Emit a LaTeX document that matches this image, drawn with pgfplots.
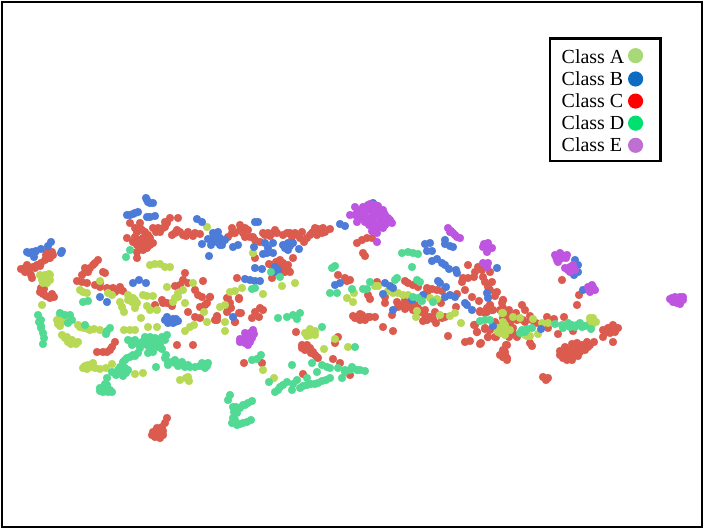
\documentclass[border=0pt]{standalone}
\usepackage{fontspec}
\setmainfont{Liberation Serif}
\usepackage{pgfplots}
\pgfplotsset{compat=1.18}
\definecolor{ptA}{HTML}{B7D956}
\definecolor{ptB}{HTML}{4C7BD8}
\definecolor{ptC}{HTML}{DB5B4E}
\definecolor{ptD}{HTML}{52D993}
\definecolor{ptE}{HTML}{BE55E0}
\definecolor{keyA}{HTML}{A9D878}
\definecolor{keyB}{HTML}{0B6CC2}
\definecolor{keyC}{HTML}{FF0000}
\definecolor{keyD}{HTML}{00E06E}
\definecolor{keyE}{HTML}{BE6FD2}
\pgfplotsset{
  dots/.style={only marks,mark=*,mark size=3.9bp,mark options={draw=#1,fill=#1},forget plot},
  key/.style={only marks,mark=*,mark size=6.3bp,mark options={draw=#1,fill=#1}}}
\begin{document}
\begin{tikzpicture}
\useasboundingbox (-2bp,-2bp) rectangle (702bp,527bp);
\begin{axis}[
  at={(0,0)},anchor=south west,
  scale only axis,
  width=700bp,height=525bp,
  xmin=2,xmax=702,ymin=2,ymax=527,
  y dir=reverse,
  xtick=\empty,ytick=\empty,
  axis line style={line width=2bp,black},
  legend plot pos=right,
  legend cell align=left,
  legend image code/.code={\draw[#1] plot coordinates {(0.3cm,0cm)};\path (0.78cm,0cm);},
  legend style={at={(axis cs:548.5,37.5)},anchor=north west,draw=black,line width=2.5bp,
    font=\fontsize{20}{22}\selectfont,inner xsep=10bp,inner ysep=6bp,row sep=2.8bp,
    /tikz/every odd column/.append style={column sep=3bp}},
]
\addlegendimage{key=keyA}
\addlegendentry{\rule{0pt}{16.3bp}Class A}
\addlegendimage{key=keyB}
\addlegendentry{Class B}
\addlegendimage{key=keyC}
\addlegendentry{Class C}
\addlegendimage{key=keyD}
\addlegendentry{Class D}
\addlegendimage{key=keyE}
\addlegendentry{Class E}
% class C
\addplot[dots=ptC] coordinates {
(21,269)(25,268)(29,269)(31,275)(32,278)(29,271)(33,267)(37,265)(41,263)(45,260)(48,258)(50,254)(46,255)(52,252)(53,255)(47,252)(25,272)(27,265)(35,268)(40,266)(50,258)
(41,288)(40,292)(43,294)(46,296)(50,298)(54,297)(52,294)(44,289)
(97,352)(103,352)(107,352)(112,347)(115,342)(110,350)(177,345)(193,345)
(244,363)(262,363)(350,375)(340,363)(333,359)(303,374)(335,343)(338,337)(296,332)
(302,348)(307,345)(310,348)(313,352)(317,357)(318,358)(302,345)(305,350)(311,353)(315,355)
(155,433)(160,432)(163,435)(158,436)(162,427)(167,418)(165,423)(153,432)(158,430)(155,437)(160,438)(157,428)(152,435)(160,435)(163,431)
(357,317)(362,315)(370,317)(360,318)(375,317)
(130,223)(140,223)(142,230)(137,232)(127,238)(133,242)(145,243)(150,238)(153,243)(142,247)(147,248)(137,258)(137,252)(148,235)(153,228)(160,232)(165,222)(170,218)(178,218)(167,223)(172,235)(177,230)(183,235)(188,232)(193,236)(200,234)(143,238)(163,228)
(135,237)(140,240)(145,238)(150,245)(143,250)(137,245)(145,232)(135,228)(140,228)(156,232)(158,228)(165,227)(175,233)(180,232)(186,236)(195,233)
(98,260)(93,265)(90,268)(85,272)(82,275)(103,272)(105,273)(85,268)(95,263)(88,272)
(77,281)(82,282)(87,283)(95,285)(100,287)(107,288)(113,288)(118,290)(123,291)(115,292)(100,283)(110,291)(120,287)
(155,305)(162,300)(167,303)(172,306)(175,286)(183,280)(185,273)(188,283)(203,281)(195,290)(198,295)(202,297)(210,297)(207,303)(200,307)(188,312)(195,317)(200,318)(217,317)(215,320)(228,298)(230,303)(228,310)(235,322)(237,278)(239,298)(239,313)(180,285)(163,303)
(232,228)(228,237)(235,233)(240,225)(245,228)(248,230)(245,237)(250,237)(255,240)(260,242)(263,233)(268,233)(273,233)(277,233)(287,233)(292,237)(298,235)(302,232)(307,238)(313,232)(318,229)(323,228)(312,233)(322,233)(330,229)(304,242)(317,235)
(232,233)(240,230)(243,233)(253,237)(265,235)(270,236)(275,230)(283,235)(290,233)(295,233)(300,238)(310,235)(315,228)(320,232)(325,232)
(255,258)(269,264)(283,263)(288,265)(290,272)(272,278)(293,258)(282,265)(285,272)(276,262)(280,260)(278,265)(273,267)(285,268)(280,270)(288,270)
(227,298)(229,303)(231,308)(239,299)(227,312)(241,313)(210,297)(205,305)(260,308)(255,312)(252,318)(263,310)(259,317)(217,316)(217,320)(235,322)
(357,243)(362,240)(367,238)(372,238)(363,253)(365,256)
(478,267)(468,265)(482,270)(490,272)(463,278)(468,278)(474,277)(462,282)(483,277)(485,282)(492,282)(488,287)(490,290)(465,290)(497,292)(495,296)(472,297)(479,301)(457,294)(456,307)(503,300)(502,303)(490,305)(487,308)(480,312)(485,313)(493,310)(475,325)(477,332)(485,328)(488,337)(496,337)(465,342)(470,341)(480,344)(448,336)(507,345)(505,352)(503,357)(507,360)(475,272)(505,355)(500,355)
(338,275)(345,278)(350,280)(347,281)(368,295)(370,299)(385,297)(385,303)(377,282)
(405,281)(408,283)(413,285)(418,287)(427,288)(432,289)(437,290)(442,291)(427,292)
(397,302)(398,307)(392,315)(405,305)(410,307)(405,309)(413,310)(418,308)(425,315)(423,321)(427,320)(433,319)(436,323)(442,318)(445,317)(435,312)(441,303)(427,295)(383,327)(393,331)(358,317)(363,317)(368,317)(355,318)(360,314)
(405,300)(410,303)(415,305)(420,312)(400,305)(430,317)(425,310)(360,320)(365,320)(353,316)
(522,305)(525,310)(530,316)(516,313)(509,310)(503,308)(503,300)(490,305)(492,310)(487,312)(480,311)(547,317)(554,319)(564,317)(548,328)(558,334)(573,331)(536,323)(532,320)(523,320)(513,328)(517,337)(509,337)(507,333)(495,337)(488,337)(485,329)(474,325)(477,332)(481,343)(506,345)(503,350)(503,357)(507,358)(530,343)(532,346)(505,320)(512,319)(517,320)(510,323)(503,318)
(500,310)(515,318)(525,322)(510,315)(498,325)(515,335)(490,330)(495,322)
(560,351)(565,347)(572,344)(577,343)(582,345)(587,342)(588,347)(585,350)(580,352)(575,353)(570,352)(567,355)(563,358)(567,360)(573,357)(578,356)(570,357)(594,342)(572,349)(580,348)(564,352)(560,355)(568,350)(575,349)(583,349)(590,345)(572,360)(578,351)(585,346)
(603,330)(608,328)(613,325)(618,328)(610,333)(603,337)(615,332)(613,342)(610,328)(605,333)(612,330)
(543,377)(548,378)(546,380)
(562,280)(579,295)(577,305)
};
% class A
\addplot[dots=ptA] coordinates {
(40,275)(45,275)(50,275)(42,280)(48,280)(50,280)(43,283)(47,283)(49,274)(42,305)(47,278)(45,281)
(60,316)(57,320)(58,324)(62,322)(64,318)(60,326)(63,315)(65,320)(61,320)(63,320)
(62,335)(65,338)(68,342)(71,344)(76,344)(78,342)(72,340)(67,337)
(78,325)(84,328)(88,329)(94,329)(100,330)(80,327)(90,330)
(124,330)(130,330)(135,330)(148,327)(157,327)(185,331)(190,327)(194,325)(207,322)(225,322)(225,331)
(83,368)(88,365)(93,363)(87,369)(95,368)(100,369)(106,368)(112,364)(85,366)(90,367)
(135,374)(143,373)(180,380)(186,378)(189,381)(188,377)
(263,370)(274,378)(335,339)(348,347)(324,349)(308,333)(312,332)(305,333)(310,329)(310,335)(307,336)(315,331)(315,335)
(150,265)(160,264)(165,267)(170,267)(155,264)(207,227)
(100,281)(80,290)(83,292)(87,293)(108,293)(112,295)
(128,295)(133,298)(132,302)(143,295)(153,296)(120,302)(122,307)(124,312)(135,308)(147,306)(150,310)(157,310)(141,318)(167,287)(183,290)(178,297)(173,302)(193,283)(128,300)(137,303)(130,298)(135,300)(147,296)(178,293)(175,298)
(220,307)(225,305)(230,292)(235,291)(185,303)(204,312)(253,253)(282,286)(295,283)(242,288)(263,294)
(347,298)(353,302)(354,293)(375,286)(378,286)
(388,291)(393,293)(398,293)(403,295)(408,295)
(430,298)(437,299)(440,315)(450,316)(455,313)(417,311)(416,317)(461,323)(502,313)
(503,313)(513,317)(520,318)(500,328)(505,328)(498,332)(503,333)(538,334)(525,335)(530,336)(533,319)(542,323)(548,323)(593,321)(590,322)(592,325)
(505,335)(500,333)(510,330)(505,325)(498,328)(503,322)(527,336)(593,318)(596,322)(590,318)
};
% class B
\addplot[dots=ptB] coordinates {
(27,252)(32,252)(36,251)(41,249)(34,257)(48,246)(51,242)(62,251)(61,253)(35,252)(29,253)
(165,320)(170,322)(175,322)(178,321)(167,317)(173,319)(168,323)(173,323)(176,319)
(146,198)(148,202)(153,203)(127,215)(133,214)(138,212)(147,217)(155,216)(147,200)(150,203)(130,215)(135,213)(150,217)
(197,219)(202,222)(213,233)(218,232)(208,239)(202,244)(211,245)(217,242)(222,245)(225,240)(209,256)(220,238)(233,247)(238,245)(215,238)(218,240)(220,245)(213,240)
(100,297)(107,302)(133,283)(139,280)(146,283)(233,317)
(255,222)(258,222)(254,247)(265,243)(268,248)(273,243)(263,254)(273,253)(283,245)(288,243)(285,248)(288,250)(293,243)(299,249)(267,253)(286,245)(290,246)
(255,268)(262,269)(275,267)(278,270)(275,272)(245,279)(250,280)(255,281)(260,281)
(373,203)(340,224)(345,226)(425,244)(430,243)(427,251)(432,251)(445,240)(445,244)(450,246)(453,247)
(432,261)(437,259)(442,263)(445,265)(449,269)(456,270)(457,273)(497,268)
(335,285)(340,283)(385,283)(390,286)(393,288)(383,294)
(438,281)(440,283)(446,287)(445,297)(450,295)(455,297)(412,300)(423,295)(465,303)(467,305)(472,310)(487,293)(488,298)(393,310)
(493,326)(541,329)(575,260)(578,265)(578,272)(574,275)(583,290)
};
% class D
\addplot[dots=ptD] coordinates {
(38,315)(39,322)(41,328)(43,333)(44,338)(43,344)(41,320)(41,326)
(65,315)(70,315)(72,320)(68,323)(60,313)(85,325)(107,331)(110,328)(106,334)
(128,340)(135,343)(142,342)(148,340)(155,338)(162,337)(167,335)(132,345)(140,345)(147,345)(153,345)(158,347)(162,349)(148,353)(153,352)
(135,340)(145,337)(150,337)(158,342)(165,340)(130,341)(140,348)(150,349)(145,342)(155,342)(160,345)
(138,353)(133,355)(127,358)(123,362)(120,367)(125,368)(128,370)(120,373)(123,376)(112,372)(107,378)(105,384)(100,388)(105,391)(110,390)(102,390)(112,392)
(123,368)(118,370)(126,373)(116,375)(103,392)(108,392)(100,391)(107,385)(135,356)(130,357)(125,360)
(156,367)
(166,355)(168,362)(175,360)(175,363)(182,362)(188,365)(195,367)(202,363)(208,363)(205,368)(168,365)(178,366)(185,367)(165,358)(172,362)(180,365)(190,367)(200,366)(207,366)
(252,360)(257,359)(261,355)(269,382)
(275,392)(280,387)(287,382)(292,390)(297,380)(300,388)(307,385)(307,378)(315,384)(322,381)(330,378)(283,385)(293,384)(303,386)(311,384)(318,383)(326,380)(278,390)
(292,365)(312,363)(317,372)(322,365)(327,367)(330,368)
(338,368)(345,370)(352,367)(357,370)(365,371)(342,378)(355,347)(322,327)(345,372)(350,370)(360,370)
(230,395)(228,400)(233,407)(240,408)(245,405)(252,401)(237,413)(232,423)(237,425)(243,423)(251,420)(233,418)(236,407)(243,405)(248,403)(235,410)(235,420)(240,424)(247,422)(234,412)
(278,318)(287,317)(293,315)(300,313)(297,319)
(130,250)(126,257)(83,302)(88,301)
(271,272)(280,277)(252,289)(255,288)
(332,268)(335,266)(330,293)(337,293)(352,289)(363,289)(367,289)(370,282)(397,278)(395,280)
(402,253)(408,252)(413,253)(418,254)(412,267)(417,280)(420,282)
(413,297)(418,298)(422,301)(433,302)
(480,321)(485,320)(490,320)(522,330)(527,329)(532,328)(520,333)(525,332)(555,324)(562,325)(567,325)(572,325)(577,325)(582,327)(591,329)(563,328)(580,323)(568,323)(570,327)(575,327)(585,326)
};
% class E
\addplot[dots=ptE] coordinates {
(240,342)(245,338)(250,333)(253,330)(245,343)(250,342)(252,338)(247,335)(243,340)(245,333)(250,337)(240,339)(248,345)(254,334)
(350,215)(355,207)(357,222)(363,207)(370,210)(377,210)(383,210)(365,215)(372,217)(378,217)(385,215)(360,218)(367,220)(373,222)(380,223)(387,223)(392,223)(377,228)(383,228)(357,213)(378,206)(372,231)(377,233)(377,242)(360,210)(368,205)(375,214)(370,222)(365,222)(382,219)(388,218)
(360,215)(365,208)(370,204)(375,205)(380,213)(384,213)(390,220)(369,225)(375,225)(380,226)(385,225)(355,215)
(448,228)(453,233)(457,237)(460,238)(450,232)(451,231)(455,235)
(483,247)(488,243)(492,248)(487,252)(483,263)(488,263)(487,267)(488,248)(484,244)
(555,255)(560,253)(567,255)(557,260)(562,258)(558,262)(556,257)(562,255)(560,259)(566,258)
(565,268)(570,267)(573,265)(570,272)(575,270)(568,270)(572,269)
(588,287)(593,287)(590,292)(595,290)(592,285)(592,289)(589,290)
(670,299)(675,297)(680,297)(683,300)(677,303)(680,304)(673,302)(677,300)(678,300)(675,301)(672,298)(683,297)
};
\end{axis}
\end{tikzpicture}
\end{document}
